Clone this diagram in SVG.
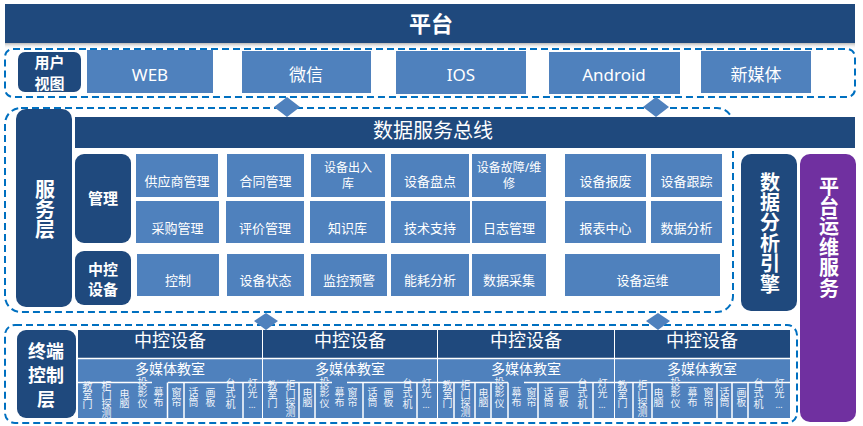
<svg xmlns="http://www.w3.org/2000/svg" width="863" height="426" viewBox="0 0 863 426">
<defs>
<linearGradient id="shade" x1="0" y1="0" x2="0" y2="1">
<stop offset="0" stop-color="#b8b8b8"/>
<stop offset="1" stop-color="#ffffff" stop-opacity="0"/>
</linearGradient>
</defs>
<style>
text{font-family:"Noto Sans","Noto Sans CJK SC",sans-serif;fill:#fff;text-anchor:middle;dominant-baseline:central}
.dk{fill:#1F497D}
.md{fill:#4F81BD}
.pu{fill:#7030A0}
.dash{fill:none;stroke:#0070C0;stroke-width:2;stroke-dasharray:7 4}
.b{font-weight:bold}
.f12{font-size:12px}
.f13{font-size:13px}
.f17{font-size:17px}
.f15{font-size:15px}
.f20{font-size:20px}
.vb{font-size:20px;font-weight:bold;writing-mode:vertical-rl;text-anchor:start;letter-spacing:0.4px}
.v{font-size:10px;fill:#f0f4fa;writing-mode:vertical-rl;text-anchor:start;letter-spacing:-1px}
.v2{font-size:10px;fill:#f0f4fa;writing-mode:vertical-rl;text-anchor:start;letter-spacing:0.5px}
.el{font-size:9px;fill:#f0f4fa}
.wl{stroke:#fff;stroke-width:1.5;fill:none}
.dia{fill:#4F81BD}
</style>

<g id="platform">
<rect x="5" y="4" width="850" height="39" class="dk"/>
<rect x="5" y="43" width="850" height="6" fill="url(#shade)"/>
<text x="431" y="23" class="b" font-size="22">平台</text>
</g>

<g id="user-view">
<rect x="5" y="49" width="850" height="48" rx="8" class="dash"/>
<rect x="18" y="52" width="63" height="40" rx="7" class="dk"/>
<text x="49.5" y="62" class="b" font-size="15">用户</text>
<text x="49.5" y="83" class="b" font-size="15">视图</text>
</g>
<g id="web"><rect x="87" y="50" width="126" height="43" class="md"/><text x="150" y="74" class="f17">WEB</text></g>
<g id="weixin"><rect x="242" y="51" width="129" height="42" class="md"/><text x="306" y="74" class="f17">微信</text></g>
<g id="ios"><rect x="396" y="51" width="130" height="43" class="md"/><text x="461" y="74" class="f17">IOS</text></g>
<g id="android"><rect x="549" y="52" width="131" height="42" class="md"/><text x="614" y="74" class="f17">Android</text></g>
<g id="newmedia"><rect x="701" y="51" width="110" height="42" class="md"/><text x="756" y="74" class="f17">新媒体</text></g>

<g id="service-layer">
<rect x="5" y="108" width="728" height="204" rx="16" class="dash"/>
<rect x="16" y="109" width="56" height="198" rx="10" class="dk"/>
<text x="44" y="179" class="vb">服务层</text>
</g>
<g id="data-bus"><rect x="75" y="117" width="780" height="31" class="dk"/><text x="433" y="130" class="f20">数据服务总线</text></g>

<g id="mgmt"><rect x="75" y="154" width="56" height="89" rx="9" class="dk"/><text x="103" y="198" class="b f15">管理</text></g>
<g id="central"><rect x="75" y="251" width="56" height="54" rx="9" class="dk"/><text x="103" y="269" class="b f15">中控</text><text x="103" y="289" class="b f15">设备</text></g>

<g id="m1"><rect x="136" y="154" width="82" height="43" class="md"/><text x="177" y="181" class="f13">供应商管理</text></g>
<g id="m2"><rect x="227" y="154" width="77" height="43" class="md"/><text x="265.5" y="181" class="f13">合同管理</text></g>
<g id="m3"><rect x="311" y="154" width="74" height="43" class="md"/><text x="348" y="167" class="f12">设备出入</text><text x="348" y="183" class="f12">库</text></g>
<g id="m4"><rect x="391" y="154" width="78" height="43" class="md"/><text x="430" y="181" class="f13">设备盘点</text></g>
<g id="m5"><rect x="472" y="154" width="74" height="43" class="md"/><text x="509" y="167" class="f12">设备故障/维</text><text x="509" y="183" class="f12">修</text></g>
<g id="m6"><rect x="565" y="154" width="81" height="43" class="md"/><text x="605.5" y="181" class="f13">设备报废</text></g>
<g id="m7"><rect x="651" y="154" width="71" height="43" class="md"/><text x="686.5" y="181" class="f13">设备跟踪</text></g>

<g id="m8"><rect x="136" y="201" width="83" height="42" class="md"/><text x="177.5" y="228" class="f13">采购管理</text></g>
<g id="m9"><rect x="226" y="201" width="78" height="42" class="md"/><text x="265" y="228" class="f13">评价管理</text></g>
<g id="m10"><rect x="310" y="201" width="75" height="42" class="md"/><text x="347.5" y="228" class="f13">知识库</text></g>
<g id="m11"><rect x="391" y="201" width="79" height="42" class="md"/><text x="430" y="228" class="f13">技术支持</text></g>
<g id="m12"><rect x="472" y="201" width="74" height="42" class="md"/><text x="509" y="228" class="f13">日志管理</text></g>
<g id="m13"><rect x="565" y="201" width="81" height="42" class="md"/><text x="605.5" y="228" class="f13">报表中心</text></g>
<g id="m14"><rect x="651" y="201" width="71" height="42" class="md"/><text x="686.5" y="228" class="f13">数据分析</text></g>

<g id="c1"><rect x="137" y="254" width="82" height="42" class="md"/><text x="178" y="280" class="f13">控制</text></g>
<g id="c2"><rect x="227" y="254" width="77" height="42" class="md"/><text x="265.5" y="280" class="f13">设备状态</text></g>
<g id="c3"><rect x="311" y="254" width="76" height="42" class="md"/><text x="349" y="280" class="f13">监控预警</text></g>
<g id="c4"><rect x="391" y="254" width="78" height="42" class="md"/><text x="430" y="280" class="f13">能耗分析</text></g>
<g id="c5"><rect x="472" y="254" width="74" height="42" class="md"/><text x="509" y="280" class="f13">数据采集</text></g>
<g id="c6"><rect x="565" y="254" width="155" height="42" class="md"/><text x="642.5" y="280" class="f13">设备运维</text></g>

<g id="analysis-engine">
<rect x="741" y="154" width="56" height="157" rx="10" class="dk"/>
<text x="769" y="172" class="vb">数据分析引擎</text>
</g>
<g id="ops-service">
<rect x="800" y="154" width="56" height="268" rx="10" class="pu"/>
<text x="828" y="176" class="vb">平台运维服务</text>
</g>

<g id="terminal-layer">
<rect x="5" y="325" width="792" height="98" rx="10" class="dash"/>
<rect x="17" y="330" width="59" height="88" rx="9" class="dk"/>
<text x="46" y="351" class="b" font-size="18">终端</text>
<text x="46" y="375" class="b" font-size="18">控制</text>
<text x="46" y="399" class="b" font-size="18">层</text>
</g>

<g id="block1">
<rect x="78" y="330" width="184" height="28" class="dk"/>
<rect x="78" y="358" width="184" height="60" class="md"/>
<text x="170" y="340" font-size="18">中控设备</text>
<text x="170" y="368" font-size="14">多媒体教室</text>
<path class="wl" d="M78 358.5H262M78 382.5H152M168 382.5H262M167.5 382.5V418M184 382.5V418M243 382.5V418"/>
<text class="v" x="87" y="381">教室门</text>
<text class="v" x="106" y="381">柜门探测</text>
<text class="v" x="124" y="389">电脑</text>
<text class="v2" x="142" y="377">投影仪</text>
<text class="v2" x="158" y="387">幕布</text>
<text class="v2" x="176" y="387">窗帘</text>
<text class="v2" x="193" y="387">话筒</text>
<text class="v2" x="210" y="387">画板</text>
<text class="v2" x="230" y="378">台式机</text>
<text class="v2" x="252" y="378">灯光</text>
<text class="el" x="252" y="404">…</text>
</g>

<g id="block2">
<rect x="263" y="330" width="174" height="28" class="dk"/>
<rect x="263" y="358" width="174" height="60" class="md"/>
<text x="350" y="340" font-size="18">中控设备</text>
<text x="350" y="368" font-size="14">多媒体教室</text>
<path class="wl" d="M263 358.5H437M263 382.5H332M347 382.5H437M299 382.5V418M315 382.5V418M363 382.5V418M417 382.5V418"/>
<text class="v" x="272" y="380">教室门</text>
<text class="v" x="290" y="380">柜门探测</text>
<text class="v" x="307" y="388">电脑</text>
<text class="v2" x="324" y="377">投影仪</text>
<text class="v2" x="339" y="387">幕布</text>
<text class="v2" x="352" y="387">窗帘</text>
<text class="v2" x="372" y="387">话筒</text>
<text class="v2" x="388" y="387">画板</text>
<text class="v2" x="407" y="378">台式机</text>
<text class="v2" x="426" y="378">灯光</text>
<text class="el" x="426" y="404">…</text>
</g>

<g id="block3">
<rect x="438" y="330" width="176" height="28" class="dk"/>
<rect x="438" y="358" width="176" height="60" class="md"/>
<text x="526" y="340" font-size="18">中控设备</text>
<text x="526" y="368" font-size="14">多媒体教室</text>
<path class="wl" d="M438 358.5H614M438 382.5H508M524 382.5H614M454 382.5V418M475 382.5V418M491 382.5V418M508 382.5V418M538 382.5V418M593 382.5V418"/>
<text class="v" x="447" y="380">教室门</text>
<text class="v" x="465" y="380">柜门探测</text>
<text class="v" x="483" y="388">电脑</text>
<text class="v2" x="499" y="377">投影仪</text>
<text class="v2" x="516" y="387">幕布</text>
<text class="v2" x="531" y="387">窗帘</text>
<text class="v2" x="548" y="387">话筒</text>
<text class="v2" x="563" y="387">画板</text>
<text class="v2" x="582" y="378">台式机</text>
<text class="v2" x="602" y="378">灯光</text>
<text class="el" x="602" y="404">…</text>
</g>

<g id="block4">
<rect x="615" y="330" width="175" height="28" class="dk"/>
<rect x="615" y="358" width="175" height="60" class="md"/>
<text x="702" y="340" font-size="18">中控设备</text>
<text x="702" y="368" font-size="14">多媒体教室</text>
<path class="wl" d="M615 358.5H790M615 382.5H790M633 382.5V418M652 382.5V418M717 382.5V418M732 382.5V418M748 382.5V418"/>
<text class="v" x="622" y="380">教室门</text>
<text class="v" x="642" y="380">柜门探测</text>
<text class="v" x="658" y="388">电脑</text>
<text class="v2" x="675" y="377">投影仪</text>
<text class="v2" x="692" y="387">幕布</text>
<text class="v2" x="708" y="387">窗帘</text>
<text class="v2" x="724" y="387">话筒</text>
<text class="v2" x="741" y="387">画板</text>
<text class="v2" x="758" y="378">台式机</text>
<text class="v2" x="779" y="378">灯光</text>
<text class="el" x="779" y="404">…</text>
</g>

<g id="connectors">
<polygon class="dia" points="287,97 300,107 287,117 274,107"/>
<polygon class="dia" points="656,97 669,107 656,117 643,107"/>
<polygon class="dia" points="266,313 278,321 266,330 254,321"/>
<polygon class="dia" points="658,313 670,321 658,330 646,321"/>
</g>
</svg>
